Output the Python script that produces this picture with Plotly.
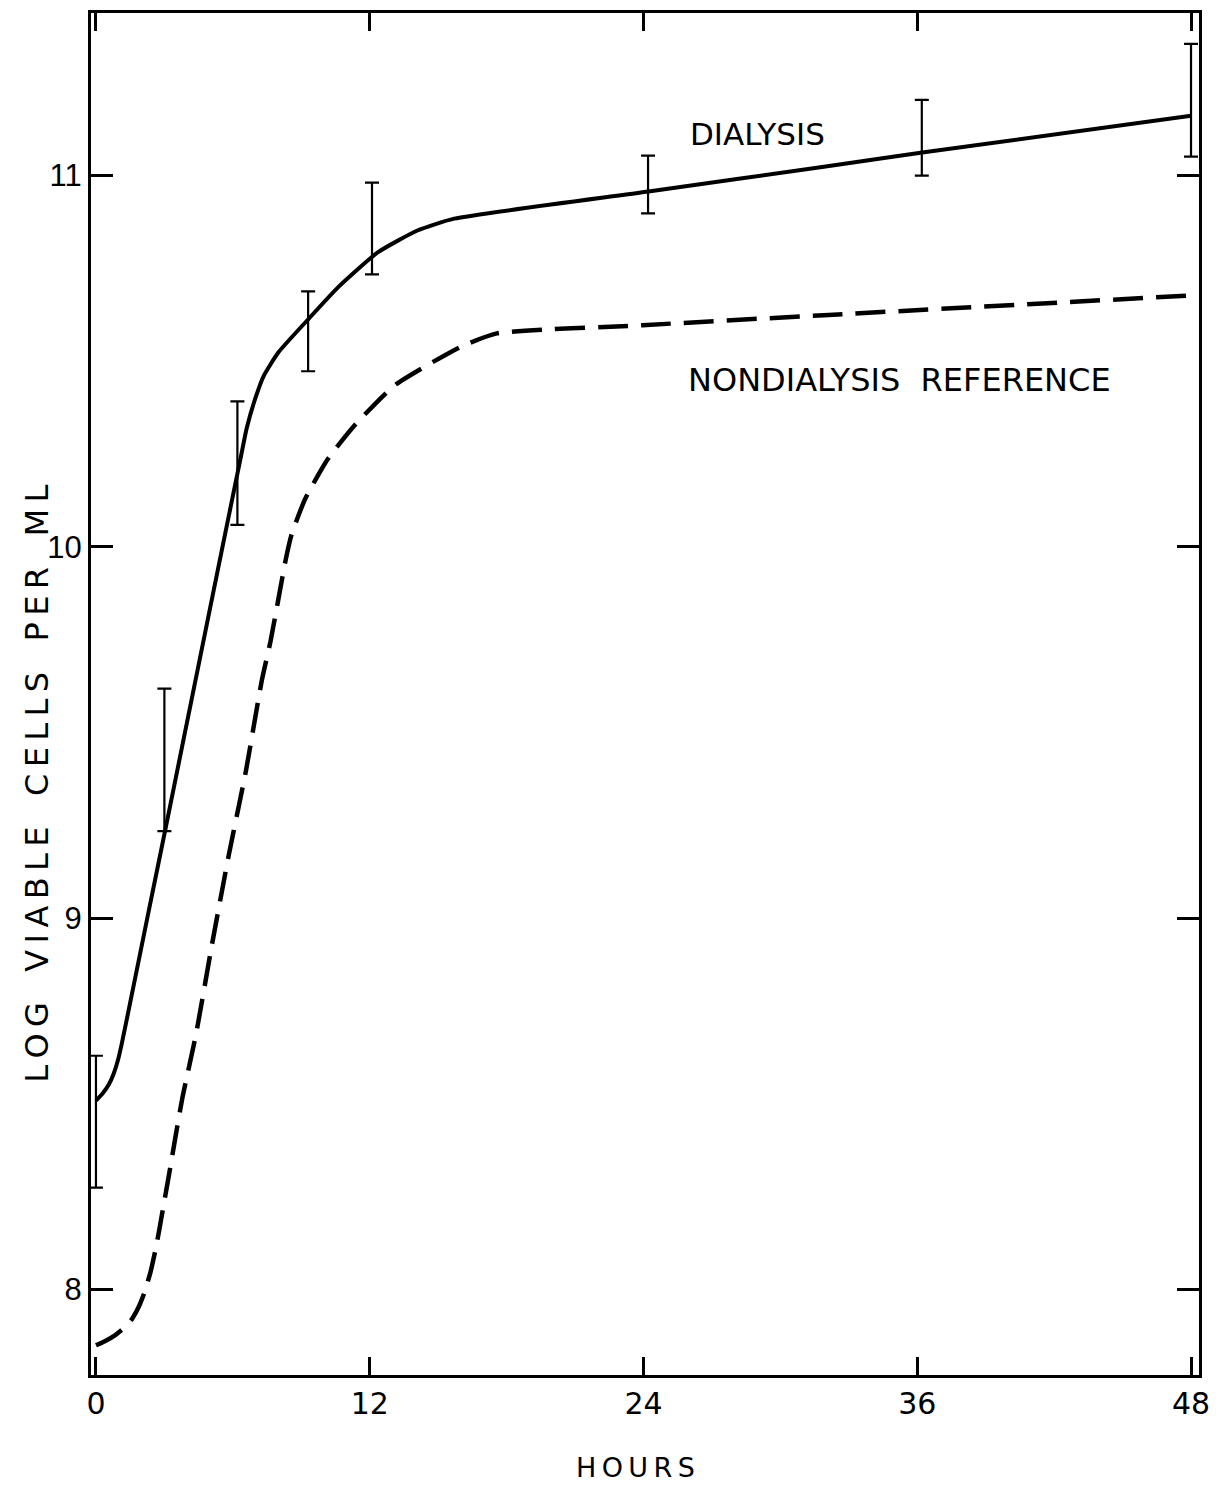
import plotly.graph_objects as go

# Dialysis culture: smoothed growth curve (hours, log viable cells per ml)
dialysis_hours = [0.0, 0.30, 0.57, 0.78, 0.96, 1.13, 1.48, 2.35, 3.09, 4.52,
                  5.52, 6.35, 6.61, 6.96, 7.35, 8.00, 9.35, 10.61, 12.35,
                  14.09, 15.70, 24.22, 31.91, 36.22, 48.0]
dialysis_log = [8.508, 8.528, 8.552, 8.581, 8.616, 8.661, 8.766, 9.030, 9.253,
                9.688, 9.992, 10.242, 10.320, 10.395, 10.460, 10.524, 10.616,
                10.699, 10.793, 10.852, 10.884, 10.957, 11.024, 11.062, 11.161]

# Nondialysis reference culture
reference_hours = [0.0, 0.39, 0.83, 1.22, 1.57, 1.87, 2.13, 2.39, 2.65, 2.91,
                   3.22, 3.78, 4.39, 5.09, 5.83, 6.57, 7.26, 7.65, 8.00, 8.30,
                   8.57, 9.17, 10.17, 11.35, 13.09, 15.96, 17.57, 23.96, 31.91,
                   48.0]
reference_log = [7.849, 7.860, 7.876, 7.895, 7.919, 7.952, 7.992, 8.046, 8.118,
                 8.207, 8.315, 8.513, 8.688, 8.930, 9.172, 9.395, 9.637, 9.745,
                 9.860, 9.960, 10.032, 10.129, 10.237, 10.328, 10.435, 10.538,
                 10.575, 10.597, 10.624, 10.677]

# Sampling times with the observed range for the dialysis culture
sample_hours = [0.0, 3.0, 6.2, 9.3, 12.1, 24.2, 36.2, 48.0]
sample_low = [8.274, 9.234, 10.059, 10.473, 10.734, 10.898, 11.000, 11.051]
sample_high = [8.629, 9.618, 10.392, 10.688, 10.981, 11.054, 11.204, 11.355]

x_ticks = [0, 12, 24, 36, 48]
y_ticks = [8, 9, 10, 11]

FONT = "DejaVu Sans"
INK = "black"


def lettered(text, letter_gap="\u2009", word_gap="\u00a0" * 3):
    """Hand-lettered look: open spacing between letters and words."""
    return word_gap.join(letter_gap.join(word) for word in text.split(" "))


sample_mid = [(lo + hi) / 2 for lo, hi in zip(sample_low, sample_high)]
sample_half = [(hi - lo) / 2 for lo, hi in zip(sample_low, sample_high)]

fig = go.Figure()

fig.add_trace(go.Scatter(
    x=reference_hours, y=reference_log, mode="lines",
    line=dict(color=INK, width=4.5, dash="30px,13px", shape="spline", smoothing=0.5),
    hoverinfo="skip",
))

fig.add_trace(go.Scatter(
    x=dialysis_hours, y=dialysis_log, mode="lines",
    line=dict(color=INK, width=4, shape="spline", smoothing=0.5),
    hoverinfo="skip",
))

fig.add_trace(go.Scatter(
    x=sample_hours, y=sample_mid, mode="markers",
    marker=dict(size=1, color="rgba(0,0,0,0)"),
    error_y=dict(type="data", symmetric=True, array=sample_half,
                 width=7, thickness=2.2, color=INK),
    hoverinfo="skip",
))

fig.add_annotation(x=29.0, y=11.113, text="DIALYSIS", showarrow=False,
                   font=dict(family=FONT, size=31, color=INK),
                   xanchor="center", yanchor="middle")
fig.add_annotation(x=35.2, y=10.449,
                   text="NONDIALYSIS\u00a0\u00a0REFERENCE",
                   showarrow=False, font=dict(family=FONT, size=32, color=INK),
                   xanchor="center", yanchor="middle")

fig.add_annotation(xref="paper", yref="paper", x=-0.0483, y=0.4344,
                   text=lettered("LOG VIABLE CELLS PER ML"),
                   textangle=-90, showarrow=False,
                   font=dict(family=FONT, size=32, color=INK),
                   xanchor="center", yanchor="middle")
fig.add_annotation(xref="paper", yref="paper", x=0.4915, y=-0.068,
                   text=lettered("HOURS"), showarrow=False,
                   font=dict(family=FONT, size=27, color=INK),
                   xanchor="center", yanchor="middle")

axis_common = dict(
    showline=True, linewidth=3, linecolor=INK, mirror="ticks",
    ticks="inside", tickwidth=2.5, tickcolor=INK,
    showgrid=False, zeroline=False,
)

fig.update_xaxes(range=[-0.217, 48.35], tickvals=x_ticks,
                 ticktext=[str(v) for v in x_ticks], ticklen=18,
                 tickfont=dict(family=FONT, size=30, color=INK), **axis_common)
fig.update_yaxes(range=[7.769, 11.438], tickvals=y_ticks,
                 ticktext=[str(v) for v in y_ticks], ticklen=22,
                 tickfont=dict(family="Liberation Sans", size=31, color=INK),
                 **axis_common)

fig.update_layout(
    width=1220, height=1486,
    margin=dict(l=91, r=12, t=10, b=111),
    paper_bgcolor="white", plot_bgcolor="white",
    showlegend=False,
)

fig.write_html("out.html")
